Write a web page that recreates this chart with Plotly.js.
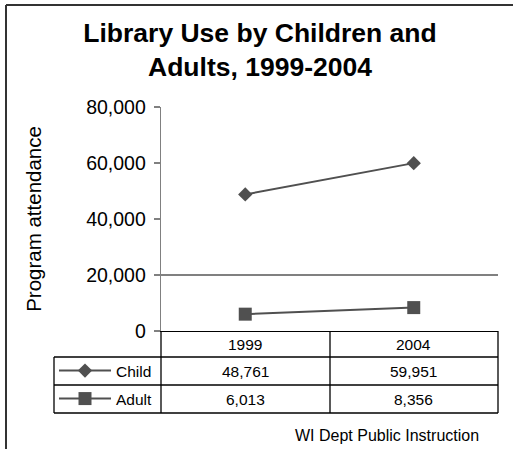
<!DOCTYPE html>
<html><head><meta charset="utf-8">
<script src="https://cdn.plot.ly/plotly-3.0.1.min.js"></script>
<style>html,body{margin:0;padding:0;background:#fff}#chart{width:513px;height:449px}</style>
</head><body><div id="chart"></div>
<script>
const years = ["1999", "2004"];
const child = [48761, 59951];
const adult = [6013, 8356];
const seriesNames = ["Child", "Adult"];
const yTicks = [0, 20000, 40000, 60000, 80000];

const W = 513, H = 449;
const px = x => x / W;
const py = y => 1 - y / H;
const FONT = "Arial, 'Liberation Sans', sans-serif";
const GREY = "#505050";

const fmt = v => v.toLocaleString("en-US");

const traces = [
  {x: years, y: child, name: seriesNames[0], type: "scatter", mode: "lines+markers",
   line: {color: GREY, width: 2}, marker: {symbol: "diamond", size: 11, color: GREY},
   legend: "legend", hoverinfo: "skip"},
  {x: years, y: adult, name: seriesNames[1], type: "scatter", mode: "lines+markers",
   line: {color: GREY, width: 2}, marker: {symbol: "square", size: 13, color: GREY},
   legend: "legend2", hoverinfo: "skip"},
  {x: years, y: [null, null], yaxis: "y2", type: "scatter", mode: "lines", showlegend: false, hoverinfo: "skip"}
];

function hline(y, x0, x1, color, w) {
  return {type: "line", xref: "paper", yref: "paper", x0: px(x0), x1: px(x1), y0: py(y), y1: py(y),
          line: {color: color || "#000", width: w || 1.3}};
}
function vline(x, y0, y1, color, w) {
  return {type: "line", xref: "paper", yref: "paper", x0: px(x), x1: px(x), y0: py(y0), y1: py(y1),
          line: {color: color || "#000", width: w || 1.3}};
}

const shapes = [
  hline(5, 6, 513, "#333", 2),
  vline(6, 5, 449, "#333", 2),
  hline(357, 54, 498), hline(385, 54, 498), hline(413, 54, 498),
  vline(54, 357, 413), vline(161, 331, 413), vline(330, 331, 413), vline(498, 331, 413)
];

const rowsY = [344, 371, 399];
const cellFont = {family: FONT, size: 15.5, color: "#000"};
const annotations = [];
years.forEach((yr, i) => {
  [yr, fmt(child[i]), fmt(adult[i])].forEach((t, r) => {
    annotations.push({x: i, xref: "x", y: py(rowsY[r]), yref: "paper", text: t, showarrow: false,
      font: cellFont, xanchor: "center", yanchor: "middle"});
  });
});
annotations.push({x: px(481), xref: "paper", y: py(435), yref: "paper", text: "WI Dept Public Instruction",
  showarrow: false, xanchor: "right", yanchor: "middle", font: {family: FONT, size: 16, color: "#000"}});

const legendBase = {xanchor: "left", yanchor: "middle", bgcolor: "rgba(0,0,0,0)", borderwidth: 0,
  font: {family: FONT, size: 15.5, color: "#000"}, itemwidth: 52, itemclick: false, itemdoubleclick: false};

const layout = {
  width: W, height: H, margin: {l: 0, r: 0, t: 0, b: 0},
  paper_bgcolor: "#fff", plot_bgcolor: "#fff",
  font: {family: FONT, color: "#000"},
  title: {text: "Library Use by Children and<br>Adults, 1999-2004", x: px(260), xanchor: "center",
          y: py(42), yref: "container", yanchor: "top",
          font: {family: FONT, size: 26.5, weight: "bold", color: "#000"}},
  xaxis: {type: "category", domain: [px(161), px(498)], range: [-0.5, 1.5], showticklabels: false,
          ticks: "", showline: true, linecolor: "#000", linewidth: 1.3, showgrid: false, zeroline: false, fixedrange: true},
  yaxis: {domain: [py(331), py(107)], range: [0, 80000], tickvals: yTicks, tickformat: ",",
          ticks: "outside", ticklen: 6, tickcolor: "#808080", tickwidth: 1.3,
          showline: true, linecolor: "#808080", linewidth: 1.3, showgrid: false, zeroline: false,
          tickfont: {family: FONT, size: 19.5, color: "#000"}, ticklabelstandoff: 4,
          title: {text: "Program attendance", font: {family: FONT, size: 20.5, color: "#000"}, standoff: 39},
          fixedrange: true},
  yaxis2: {overlaying: "y", domain: [py(331), py(107)], range: [0, 80000], tickvals: [20000],
           showgrid: true, gridcolor: "#808080", gridwidth: 1.3, showticklabels: false, ticks: "",
           showline: false, zeroline: false, fixedrange: true},
  legend: Object.assign({}, legendBase, {x: px(54), y: py(rowsY[1])}),
  legend2: Object.assign({}, legendBase, {x: px(54), y: py(rowsY[2])}),
  shapes: shapes,
  annotations: annotations
};

Plotly.newPlot("chart", traces, layout, {displayModeBar: false, staticPlot: true});
</script>
</body></html>
